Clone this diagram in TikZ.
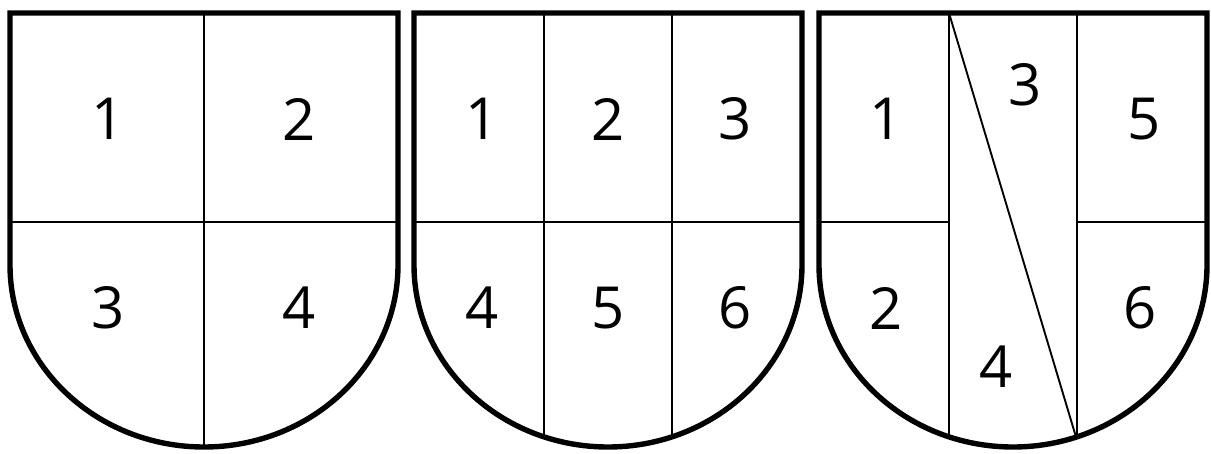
\documentclass[tikz,border=0pt]{standalone}
\usepackage{fontspec}
\setmainfont{Open Sans}
\begin{document}
\begin{tikzpicture}[x=1pt,y=-1pt,
  outer/.style={line width=5.4pt,line join=miter},
  inner/.style={line width=1.9pt},
  lbl/.style={font=\fontsize{58}{58}\selectfont,inner sep=0pt}]
\useasboundingbox (0,0) rectangle (1211,453);
% shield 1
\draw[inner] (10,222) -- (398,222);
\draw[inner] (204,13) -- (204,447);
\draw[outer] (10,13) -- (10,265) arc[start angle=180,end angle=0,x radius=194,y radius=182] -- (398,13) -- cycle;
\node[lbl] (a1) at (108,119) {1};
\node[lbl] (a2) at (299,119) {2};
\node[lbl] (a3) at (108,308) {3};
\node[lbl] (a4) at (299,308) {4};
% shield 2
\draw[inner] (414,222) -- (802,222);
\draw[inner] (544,13) -- (544,437);
\draw[inner] (672,13) -- (672,437);
\draw[outer] (414,13) -- (414,265) arc[start angle=180,end angle=0,x radius=194,y radius=182] -- (802,13) -- cycle;
\node[lbl] (b1) at (482,119) {1};
\node[lbl] (b2) at (608,119) {2};
\node[lbl] (b3) at (735,119) {3};
\node[lbl] (b4) at (482,308) {4};
\node[lbl] (b5) at (608,308) {5};
\node[lbl] (b6) at (735,308) {6};
% shield 3
\draw[inner] (819,222) -- (949,222);
\draw[inner] (1077,222) -- (1207,222);
\draw[inner] (949,13) -- (949,437);
\draw[inner] (1077,13) -- (1077,437);
\draw[inner] (949,13) -- (1076,437);
\draw[outer] (819,13) -- (819,265) arc[start angle=180,end angle=0,x radius=194,y radius=182] -- (1207,13) -- cycle;
\node[lbl] (c1) at (886,119) {1};
\node[lbl] (c2) at (886,308) {2};
\node[lbl] (c3) at (1025,85) {3};
\node[lbl] (c4) at (996,367) {4};
\node[lbl] (c5) at (1144,119) {5};
\node[lbl] (c6) at (1140,308) {6};
\end{tikzpicture}
\end{document}
